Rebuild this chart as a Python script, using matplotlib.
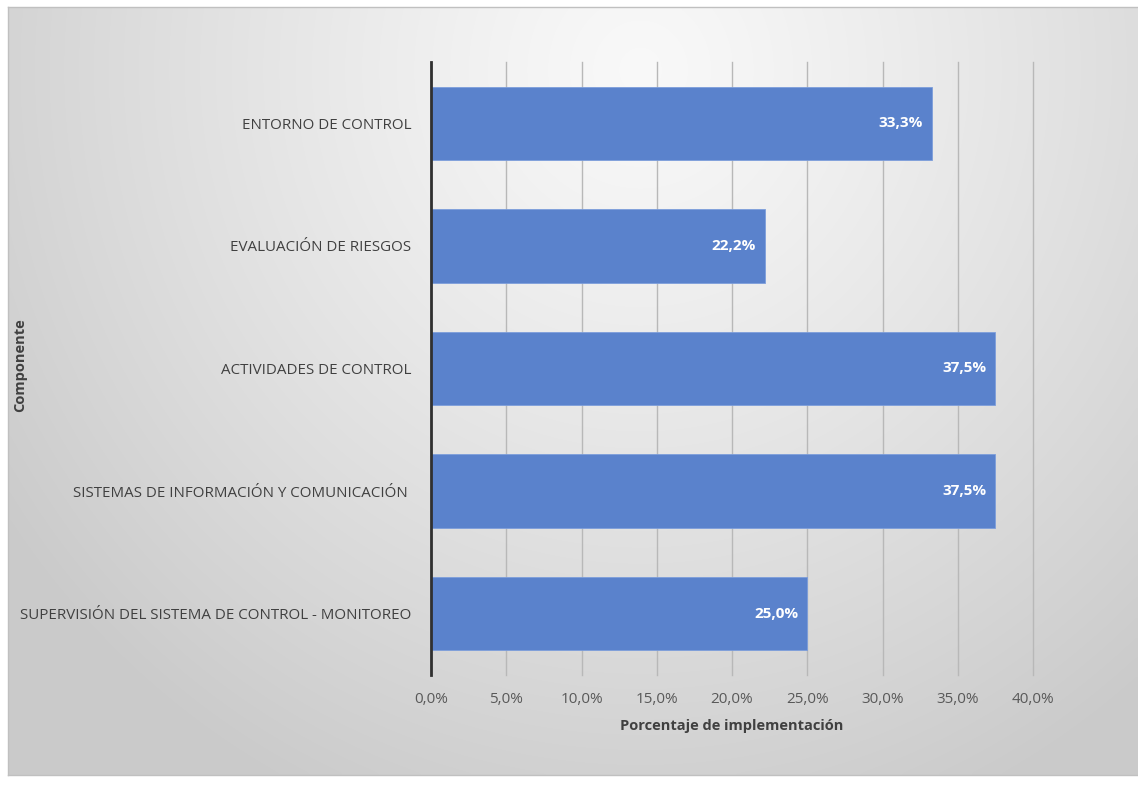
import numpy as np
import matplotlib
matplotlib.use("Agg")
import matplotlib.pyplot as plt
from matplotlib.ticker import FixedLocator

categories = [
    "ENTORNO DE CONTROL",
    "EVALUACIÓN DE RIESGOS",
    "ACTIVIDADES DE CONTROL",
    "SISTEMAS DE INFORMACIÓN Y COMUNICACIÓN ",
    "SUPERVISIÓN DEL SISTEMA DE CONTROL - MONITOREO",
]
values = [33.3, 22.2, 37.5, 37.5, 25.0]
value_labels = ["33,3%", "22,2%", "37,5%", "37,5%", "25,0%"]
x_ticks = [0, 5, 10, 15, 20, 25, 30, 35, 40]
x_tick_labels = ["0,0%", "5,0%", "10,0%", "15,0%", "20,0%", "25,0%", "30,0%", "35,0%", "40,0%"]
x_title = "Porcentaje de implementación"
y_title = "Componente"

plt.rcParams['font.family'] = ['Open Sans', 'DejaVu Sans']

W, H = 1138, 789
fig = plt.figure(figsize=(W / 100, H / 100), dpi=100, facecolor="white")

# background gradient panel
bx0, by0, bx1, by1 = 8, 7, 1138, 775
bg = fig.add_axes([bx0 / W, 1 - by1 / H, (bx1 - bx0) / W, (by1 - by0) / H])
ny, nx = 200, 300
yy, xx = np.mgrid[0:1:ny * 1j, 0:1:nx * 1j]
d = np.sqrt(((xx - 0.56) / 0.68) ** 2 + ((yy - 0.08) / 1.05) ** 2)
d = np.clip(d, 0, 1)
light, dark = 0.975, 0.795
img = light - (light - dark) * d ** 1.2
bg.imshow(np.dstack([img, img, img]), aspect="auto", extent=[0, 1, 1, 0], interpolation="bicubic")
bg.set_xlim(0, 1); bg.set_ylim(1, 0)
bg.set_xticks([]); bg.set_yticks([])
for s in bg.spines.values():
    s.set_color("#c0c0c0"); s.set_linewidth(1.0)
bg.spines["right"].set_visible(False)
bg.set_zorder(0)

# main axes
left, right, top, bottom = 431, 1033, 62, 675
ax = fig.add_axes([left / W, 1 - bottom / H, (right - left) / W, (bottom - top) / H])
ax.set_zorder(1)
ax.patch.set_alpha(0)

ypos = np.arange(len(categories))
bars = ax.barh(ypos, values, height=0.6, color="#5a82cc", edgecolor="#7d9edb", linewidth=0.6, zorder=3)
ax.set_ylim(len(categories) - 0.5, -0.5)
ax.set_xlim(0, 40)
ax.xaxis.set_major_locator(FixedLocator(x_ticks))
ax.set_xticklabels(x_tick_labels)
ax.set_yticks(ypos)
ax.set_yticklabels(categories)

ax.grid(axis="x", color="#b8b8b8", linewidth=1.0, zorder=0)
for gl in ax.get_xgridlines():
    gl.set_clip_on(False)
ax.set_axisbelow(True)
for side in ["top", "right", "bottom"]:
    ax.spines[side].set_visible(False)
ax.spines["left"].set_color("#303030")
ax.spines["left"].set_linewidth(2.0)
ax.spines["left"].set_zorder(4)

ax.tick_params(axis="x", length=0, pad=12, labelsize=11, colors="#595959")
ax.tick_params(axis="y", length=0, pad=14, labelsize=10.9, colors="#404040")

for b, lab in zip(bars, value_labels):
    ax.text(b.get_width() - 0.6, b.get_y() + b.get_height() / 2, lab,
            ha="right", va="center", color="white", fontsize=11, fontweight="bold", zorder=5)

ax.set_xlabel(x_title, fontsize=10.5, fontweight="bold", color="#404040", labelpad=9)
fig.text(20 / W, 1 - 365 / H, y_title, rotation=90, ha="center", va="center",
         fontsize=10.5, fontweight="bold", color="#404040")

fig.savefig("out.png", dpi=100, facecolor="white")
